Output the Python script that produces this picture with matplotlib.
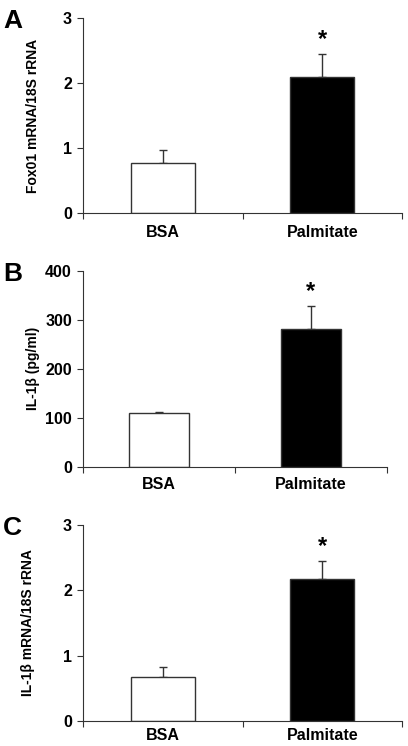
import matplotlib
matplotlib.use("Agg")
import matplotlib.pyplot as plt

plt.rcParams['font.family'] = ['Liberation Sans', 'DejaVu Sans']
plt.rcParams['font.weight'] = 'bold'

categories = ["BSA", "Palmitate"]
fox01_vals = [0.77, 2.09]
fox01_err = [0.20, 0.36]
il1b_pg_vals = [110, 281]
il1b_pg_err = [2, 47]
il1b_mrna_vals = [0.67, 2.18]
il1b_mrna_err = [0.15, 0.27]

panels = [
    dict(letter="A", vals=fox01_vals, err=fox01_err, ylim=3, yticks=[0, 1, 2, 3],
         ylabel="Fox01 mRNA/18S rRNA", pos=[0.2034, 0.7145, 0.782, 0.2614],
         xpad=9, labx=-0.157),
    dict(letter="B", vals=il1b_pg_vals, err=il1b_pg_err, ylim=400, yticks=[0, 100, 200, 300, 400],
         ylabel="IL-1β (pg/ml)", pos=[0.2034, 0.3744, 0.745, 0.2627],
         xpad=7.5, labx=-0.166),
    dict(letter="C", vals=il1b_mrna_vals, err=il1b_mrna_err, ylim=3, yticks=[0, 1, 2, 3],
         ylabel="IL-1β mRNA/18S rRNA", pos=[0.2034, 0.0339, 0.782, 0.2619],
         xpad=5.5, labx=-0.171),
]

fig = plt.figure(figsize=(4.08, 7.46), dpi=100)
edge = "#333333"
for p in panels:
    ax = fig.add_axes(p["pos"])
    x = [0, 1]
    ax.bar(x, p["vals"], width=0.4, color=["white", "black"], edgecolor=edge, linewidth=1.0, zorder=2)
    ax.errorbar(x, p["vals"], yerr=[[0, 0], p["err"]], fmt="none", ecolor=edge,
                elinewidth=1.0, capsize=3.2, capthick=1.0, zorder=1)
    # significance star
    ax.text(1, p["vals"][1] + p["err"][1] + p["ylim"] * 0.015, "*", ha="center", va="bottom",
            fontsize=17, fontweight="bold")
    ax.set_xlim(-0.5, 1.5)
    ax.set_ylim(0, p["ylim"])
    ax.set_yticks(p["yticks"])
    ax.set_yticklabels([str(t) for t in p["yticks"]], fontsize=11.5, fontweight="bold")
    ax.set_xticks([0, 1])
    ax.set_xticklabels(categories, fontsize=11.5, fontweight="bold")
    ax.tick_params(axis="x", which="major", length=0, pad=p["xpad"])
    ax.set_xticks([-0.5, 0.5, 1.5], minor=True)
    ax.tick_params(axis="x", which="minor", length=4, width=0.8, color=edge, direction="out")
    ax.tick_params(axis="y", length=4, width=0.8, color=edge, direction="out", pad=4)
    for s in ["top", "right"]:
        ax.spines[s].set_visible(False)
    for s in ["left", "bottom"]:
        ax.spines[s].set_color(edge)
        ax.spines[s].set_linewidth(0.8)
    ax.set_ylabel(p["ylabel"], fontsize=10, fontweight="bold", va="center")
    ax.yaxis.set_label_coords(p["labx"], 0.5)
    bb = p["pos"]
    fig.text(0.008, bb[1] + bb[3] - 0.004, p["letter"], fontsize=19, fontweight="bold",
             ha="left", va="center")

fig.savefig("out.png", dpi=100)
